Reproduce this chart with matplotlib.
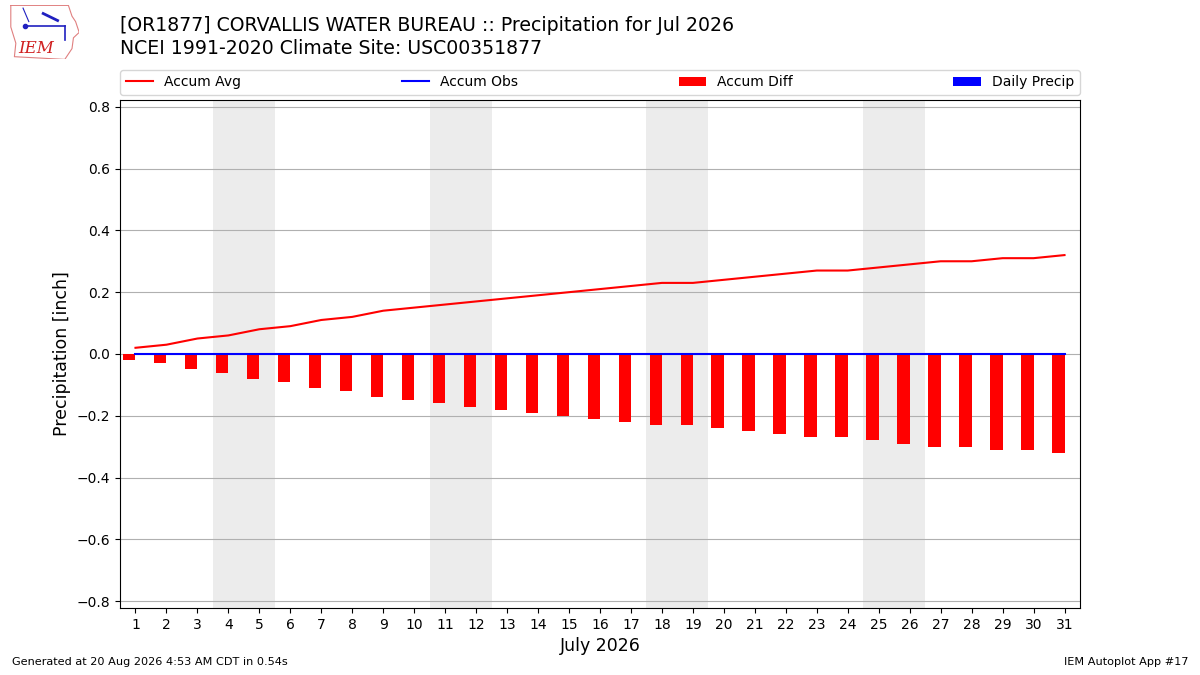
import matplotlib
matplotlib.use('Agg')
import matplotlib.pyplot as plt
import numpy as np

# July 2026 daily data (inches)
days = list(range(1, 32))
accum_avg = [0.02, 0.03, 0.05, 0.06, 0.08, 0.09, 0.11, 0.12, 0.14, 0.15,
             0.16, 0.17, 0.18, 0.19, 0.20, 0.21, 0.22, 0.23, 0.23, 0.24,
             0.25, 0.26, 0.27, 0.27, 0.28, 0.29, 0.30, 0.30, 0.31, 0.31, 0.32]
accum_obs = [0.0] * 31
daily_precip = [0.0] * 31
accum_diff = [o - a for o, a in zip(accum_obs, accum_avg)]
weekends = [(4, 5), (11, 12), (18, 19), (25, 26)]

title1 = "[OR1877] CORVALLIS WATER BUREAU :: Precipitation for Jul 2026"
title2 = "NCEI 1991-2020 Climate Site: USC00351877"

fig = plt.figure(figsize=(12, 6.75), dpi=100)
ax = fig.add_axes([0.1, 0.0993, 0.8, 0.7526])

for a, b in weekends:
    ax.axvspan(a - 0.5, b + 0.5, color='#ececec', zorder=0, lw=0)

x = np.array(days)
ax.bar(x - 0.4, daily_precip, width=0.4, align='edge', color='b', label='Daily Precip', zorder=2)
ax.bar(x - 0.4, accum_diff, width=0.4, align='edge', color='r', label='Accum Diff', zorder=2)
ax.plot(x, accum_avg, color='r', lw=1.5, label='Accum Avg', zorder=3)
ax.plot(x, accum_obs, color='b', lw=1.5, label='Accum Obs', zorder=3)

ax.set_xlim(0.5, 31.5)
ax.set_ylim(-0.822, 0.822)
ax.set_xticks(days)
ax.set_yticks(np.arange(-0.8, 0.81, 0.2))
ax.grid(axis='y', color='#b0b0b0', lw=0.8)
ax.set_axisbelow(True)
ax.set_ylabel('Precipitation [inch]', fontsize=12.5)
ax.set_xlabel('July 2026', fontsize=12.5)
ax.tick_params(labelsize=10)

h, l = ax.get_legend_handles_labels()
order = ['Accum Avg', 'Accum Obs', 'Accum Diff', 'Daily Precip']
hh = [h[l.index(k)] for k in order]
ax.legend(hh, order, loc='lower left', bbox_to_anchor=(0, 1.01, 1, 0.05), ncol=4,
          mode='expand', borderaxespad=0, fontsize=10)

fig.text(0.1, 0.962, title1, fontsize=13.6, va='center')
fig.text(0.1, 0.928, title2, fontsize=13.6, va='center')
fig.text(0.01, 0.015, 'Generated at 20 Aug 2026 4:53 AM CDT in 0.54s', fontsize=8.15)
fig.text(0.99, 0.015, 'IEM Autoplot App #17', fontsize=8.15, ha='right')

# rough IEM logo
lax = fig.add_axes([0.006, 0.912, 0.06, 0.08])
lax.set_xlim(0, 1)
lax.set_ylim(0, 1)
lax.axis('off')
ox = [0.05, 0.85, 0.9, 0.95, 1.0, 0.92, 0.9, 0.8, 0.1, 0.12, 0.05, 0.05]
oy = [1.0, 1.0, 0.8, 0.7, 0.5, 0.4, 0.2, 0.0, 0.05, 0.3, 0.6, 1.0]
lax.plot(ox, oy, color='#e08080', lw=0.8)
lax.plot([0.25, 0.8], [0.62, 0.62], color='#2020c0', lw=1.2)
lax.plot([0.8, 0.8], [0.62, 0.35], color='#2020c0', lw=1.2)
lax.plot([0.22, 0.3], [0.95, 0.7], color='#2020c0', lw=0.8)
lax.plot([0.5, 0.7], [0.85, 0.72], color='#2020c0', lw=2)
lax.plot([0.25], [0.62], 'o', color='#2020c0', ms=3)
lax.text(0.15, 0.2, 'IEM', color='#d02020', fontsize=12, family='DejaVu Serif',
         style='italic', va='center')

fig.savefig('out.png', dpi=100)
